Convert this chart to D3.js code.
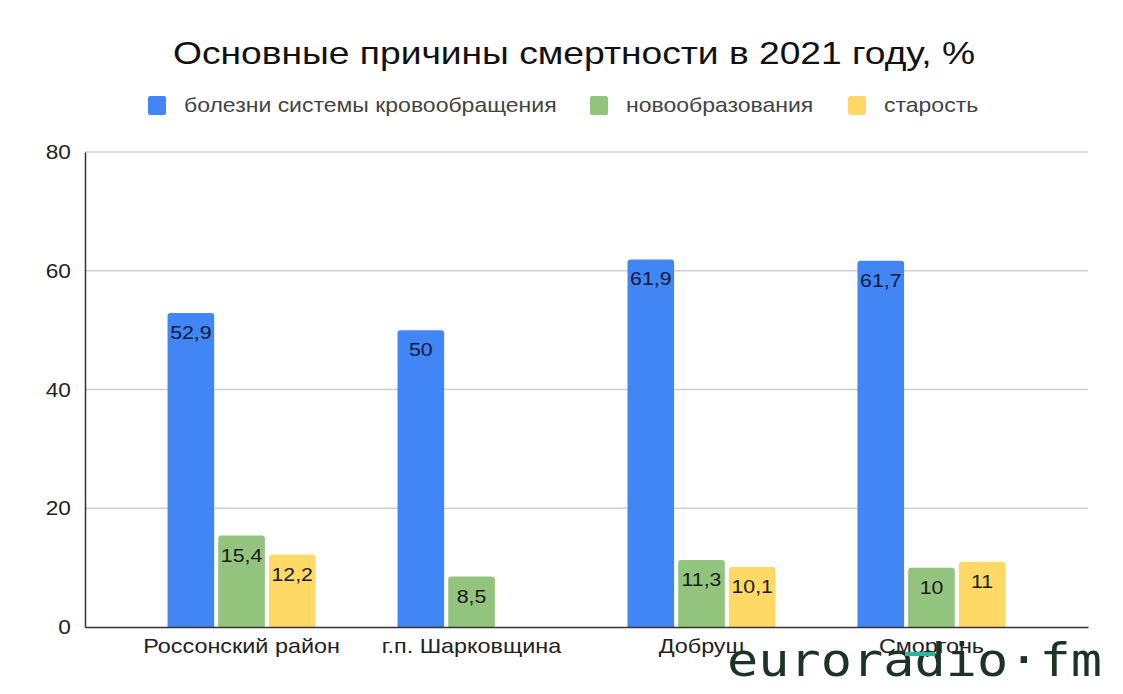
<!DOCTYPE html>
<html><head><meta charset="utf-8">
<script src="https://cdn.jsdelivr.net/npm/d3@7"></script>
<style>body{margin:0;background:#fff;} svg{display:block;font-family:"Liberation Sans",Arial,sans-serif;}</style>
</head><body>
<svg id="c" width="1123" height="694"></svg>
<script>
const title = "Основные причины смертности в 2021 году, %";
const categories = ["Россонский район", "г.п. Шарковщина", "Добруш", "Сморгонь"];
const seriesNames = ["болезни системы кровообращения", "новообразования", "старость"];
const circulatory = [52.9, 50, 61.9, 61.7];
const neoplasms = [15.4, 8.5, 11.3, 10];
const oldAge = [12.2, null, 10.1, 11];
const valueLabels = [["52,9","50","61,9","61,7"],["15,4","8,5","11,3","10"],["12,2","","10,1","11"]];
const yTicks = [0, 20, 40, 60, 80];
const colors = ["#4285f4", "#93c47d", "#ffd966"];

(function(){
const FONT = '"Liberation Sans",Arial,sans-serif';
const series = [circulatory, neoplasms, oldAge];
const svg = d3.select("#c");
const pl = 85, pr = 1088, pt = 152, pb = 627;

const y = d3.scaleLinear().domain([0, 80]).range([pb, pt]);
const x0 = d3.scaleBand().domain(categories).range([pl, pr]).paddingInner(0.3565).paddingOuter(0.359);
const x1 = d3.scaleBand().domain(d3.range(3)).range([0, x0.bandwidth()]).paddingInner(0.08);

// stretched text helper (reference text is horizontally widened)
function stext(parent, x, yy, sx, txt) {
  return parent.append("text").attr("transform", `translate(${x},${yy}) scale(${sx},1)`).text(txt);
}

stext(svg, 574, 64, 1.2, title).attr("text-anchor", "middle")
  .attr("font-size", 31).attr("fill", "#111");

const legendX = [148, 590, 848];
seriesNames.forEach((n, i) => {
  const g = svg.append("g").attr("transform", `translate(${legendX[i]},96)`);
  g.append("rect").attr("width", 18).attr("height", 19).attr("rx", 2).attr("fill", colors[i]);
  stext(g, 36, 16, 1.15, n).attr("font-size", 20).attr("fill", "#444");
});

svg.append("g").selectAll("line").data(yTicks.filter(d => d > 0)).join("line")
  .attr("x1", pl).attr("x2", pr).attr("y1", d => y(d)).attr("y2", d => y(d))
  .attr("stroke", "#d0d0d0").attr("stroke-width", 1.5);

const yAxis = svg.append("g").attr("transform", `translate(${pl},0)`)
  .call(d3.axisLeft(y).tickValues(yTicks).tickSize(0).tickPadding(13));
yAxis.select(".domain").attr("stroke", "#333").attr("stroke-width", 1.5);
yAxis.selectAll("text").attr("font-size", 21).attr("fill", "#222").attr("font-family", FONT)
  .attr("transform", "scale(1.08,1)");

const groups = svg.append("g").selectAll("g").data(categories).join("g")
  .attr("transform", d => `translate(${x0(d)},0)`);
groups.each(function(cat, ci) {
  const g = d3.select(this);
  series.forEach((s, si) => {
    const v = s[ci];
    if (v == null) return;
    const bx = x1(si), bw = x1.bandwidth();
    const yt = y(v), r = 3;
    g.append("path")
      .attr("d", `M${bx},${y(0)}V${yt + r}Q${bx},${yt} ${bx + r},${yt}H${bx + bw - r}Q${bx + bw},${yt} ${bx + bw},${yt + r}V${y(0)}Z`)
      .attr("fill", colors[si]);
    stext(g, bx + bw / 2, yt + 26, 1.12, valueLabels[si][ci])
      .attr("text-anchor", "middle").attr("font-size", 19)
      .attr("fill", si === 0 ? "#0d1a3a" : "#1a1a1a");
  });
});

const xAxis = svg.append("g").attr("transform", `translate(0,${pb})`)
  .call(d3.axisBottom(x0).tickSize(0).tickPadding(12).tickSizeOuter(0));
xAxis.select(".domain").attr("stroke", "#333").attr("stroke-width", 1.5);
xAxis.selectAll(".tick").each(function() {
  const t = d3.select(this).select("text");
  t.attr("font-size", 20).attr("fill", "#222").attr("font-family", FONT)
   .attr("transform", "scale(1.17,1)");
});

const wm = svg.append("g");
wm.append("text").attr("x", 1102).attr("y", 676).attr("text-anchor", "end")
  .attr("font-family", "DejaVu Sans Mono, monospace").attr("font-size", 46)
  .attr("textLength", 375).attr("lengthAdjust", "spacingAndGlyphs")
  .attr("fill", "#1d3327").text("euroradio·fm");
wm.append("rect").attr("x", 905).attr("y", 652).attr("width", 30).attr("height", 4).attr("fill", "#2bb59a");
})();
</script>
</body></html>
